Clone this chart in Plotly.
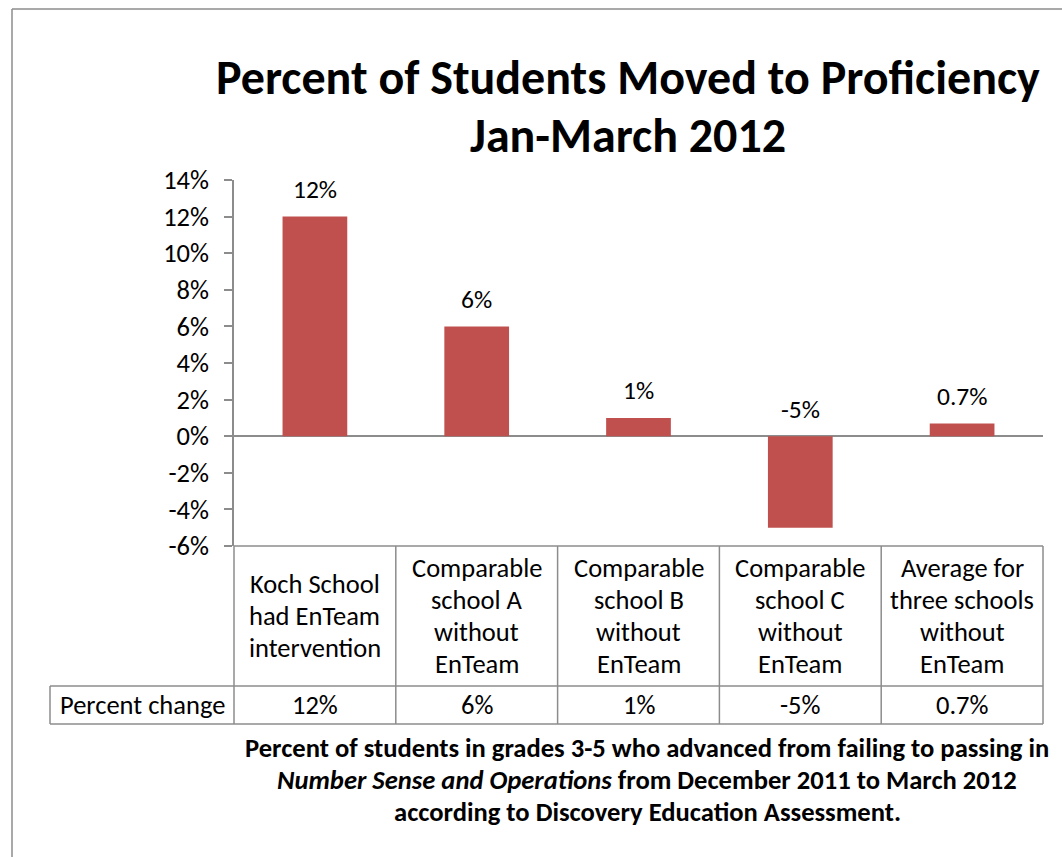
import plotly.graph_objects as go

categories = [
    "Koch School<br>had EnTeam<br>intervention",
    "Comparable<br>school A<br>without<br>EnTeam",
    "Comparable<br>school B<br>without<br>EnTeam",
    "Comparable<br>school C<br>without<br>EnTeam",
    "Average for<br>three schools<br>without<br>EnTeam",
]
values = [0.12, 0.06, 0.01, -0.05, 0.007]
value_labels = ["12%", "6%", "1%", "-5%", "0.7%"]
row_label = "Percent change"
tick_vals = [-0.06, -0.04, -0.02, 0.0, 0.02, 0.04, 0.06, 0.08, 0.10, 0.12, 0.14]
tick_text = ["-6%", "-4%", "-2%", "0%", "2%", "4%", "6%", "8%", "10%", "12%", "14%"]
title_lines = ["Percent of Students Moved to Proficiency", "Jan-March 2012"]
caption_lines = [
    "Percent of students in grades 3-5 who advanced from failing to passing in",
    "<i>Number Sense and Operations</i> from December 2011 to March 2012",
    "according to Discovery Education Assessment.",
]

W, H = 1062, 857
L, R, T, B = 234, 1043, 180, 546  # plot area pixel box
PW, PH = R - L, B - T
FONT = "Carlito, Lato, Calibri, sans-serif"
GRAY = "#8c8c8c"
BAR = "#C0504D"
FS = 26.5


def px(x):
    return (x - L) / PW


def py(y):
    return (B - y) / PH


fig = go.Figure()
fig.add_trace(go.Bar(x=list(range(len(values))), y=values, marker_color=BAR,
                     marker_line_width=0, width=0.4, hoverinfo="skip"))

fig.update_layout(
    width=W, height=H,
    margin=dict(l=L, r=W - R, t=T, b=H - B, pad=0),
    paper_bgcolor="white", plot_bgcolor="white",
    showlegend=False,
    font=dict(family=FONT, color="black", size=FS),
    xaxis=dict(range=[-0.5, len(values) - 0.5], showticklabels=False, showgrid=False,
               zeroline=False, showline=False, ticks="", fixedrange=True),
    yaxis=dict(range=[-0.06, 0.14], tickvals=tick_vals, ticktext=tick_text, showgrid=False,
               zeroline=True, zerolinecolor=GRAY, zerolinewidth=1.5,
               showline=True, linecolor=GRAY, linewidth=1.5,
               ticks="outside", ticklen=8, tickcolor=GRAY, tickwidth=1.5,
               ticklabelstandoff=10,
               tickfont=dict(family=FONT, size=FS, color="black"), fixedrange=True),
)

shapes = []
line = dict(color=GRAY, width=1.5)
# outer frame
shapes.append(dict(type="line", xref="paper", yref="paper", x0=px(12), x1=px(1070), y0=py(9), y1=py(9), line=line))
shapes.append(dict(type="line", xref="paper", yref="paper", x0=px(12), x1=px(12), y0=py(9), y1=py(870), line=line))
# table
n = len(values)
for k in range(n + 1):
    shapes.append(dict(type="line", xref="paper", yref="paper", x0=k / n, x1=k / n, y0=0, y1=py(724), line=line))
shapes.append(dict(type="line", xref="paper", yref="paper", x0=0, x1=1, y0=0, y1=0, line=line))
for yy in (686, 724):
    shapes.append(dict(type="line", xref="paper", yref="paper", x0=px(50), x1=1, y0=py(yy), y1=py(yy), line=line))
shapes.append(dict(type="line", xref="paper", yref="paper", x0=px(50), x1=px(50), y0=py(686), y1=py(724), line=line))
fig.update_layout(shapes=shapes)

ann = []
# title
for i, t in enumerate(title_lines):
    ann.append(dict(text="<b>%s</b>" % t, xref="paper", yref="paper", x=px(628), y=py(78 + 57 * i),
                    xanchor="center", yanchor="middle", showarrow=False,
                    font=dict(family=FONT, size=48, color="black")))
# data labels
for i, (v, lab) in enumerate(zip(values, value_labels)):
    ann.append(dict(text=lab, x=i, y=max(v, 0), xref="x", yref="y", yshift=27,
                    xanchor="center", yanchor="middle", showarrow=False,
                    font=dict(family=FONT, size=FS - 1, color="black")))
# table header cells
cell_center = (546 + 686) / 2
for i, c in enumerate(categories):
    parts = c.split("<br>")
    m = len(parts)
    for j, p in enumerate(parts):
        yc = cell_center + (j - (m - 1) / 2) * 32.3
        ann.append(dict(text=p, xref="paper", yref="paper", x=(i + 0.5) / n, y=py(yc),
                        xanchor="center", yanchor="middle", showarrow=False,
                        font=dict(family=FONT, size=FS, color="black")))
# value row
for i, lab in enumerate(value_labels):
    ann.append(dict(text=lab, xref="paper", yref="paper", x=(i + 0.5) / n, y=py(705),
                    xanchor="center", yanchor="middle", showarrow=False,
                    font=dict(family=FONT, size=FS, color="black")))
ann.append(dict(text=row_label, xref="paper", yref="paper", x=px(142), y=py(705),
                xanchor="center", yanchor="middle", showarrow=False,
                font=dict(family=FONT, size=FS, color="black")))
# caption
for i, t in enumerate(caption_lines):
    ann.append(dict(text="<b>%s</b>" % t, xref="paper", yref="paper", x=px(647), y=py(748 + 32 * i),
                    xanchor="center", yanchor="middle", showarrow=False,
                    font=dict(family=FONT, size=26.6, color="black")))
fig.update_layout(annotations=ann)

fig.write_html("out.html")
